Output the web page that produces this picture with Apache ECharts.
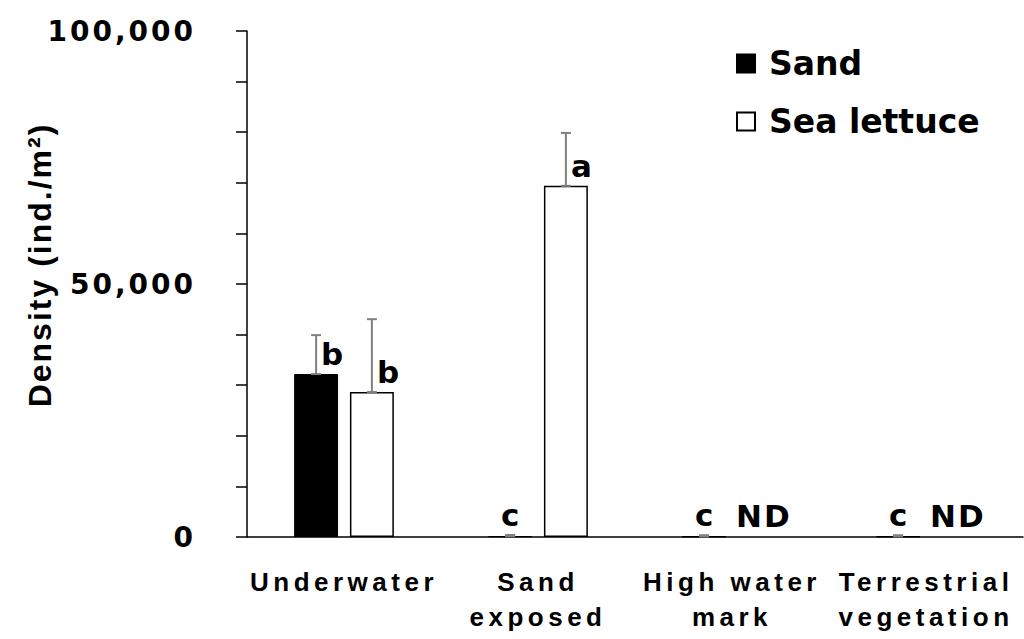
<!DOCTYPE html>
<html>
<head>
<meta charset="utf-8">
<script src="https://cdn.jsdelivr.net/npm/echarts@6/dist/echarts.min.js"></script>
<style>
  html, body { margin: 0; padding: 0; background: #fff; }
  #chart { width: 1024px; height: 639px; }
  #chart text[style*="28px"] { letter-spacing: 3px; }
  #chart text[style*="26px"] { letter-spacing: 4.5px; }
  #chart text[style*="32px"] { letter-spacing: 2px; }
  #chart text[style*="31px"] { letter-spacing: 2px; }
</style>
</head>
<body>
<div id="chart"></div>
<script>
// ---- data ----
const categories = ['Underwater', 'Sand\nexposed', 'High water\nmark', 'Terrestrial\nvegetation'];
const sandValues = [32200, 150, 100, 100];
const sandErrors = [7700, 250, 250, 250];
const lettuceValues = [28650, 69400, null, null];
const lettuceErrors = [14400, 10450, null, null];
const sandLetters = ['b', 'c', 'c', 'c'];
const lettuceLetters = ['b', 'a', 'ND', 'ND'];
const yTickValues = [0, 50000, 100000];
const seriesNames = ['Sand', 'Sea lettuce'];

const FONT = '"Liberation Sans", Arial, sans-serif';
const WIDE = '"DejaVu Sans", sans-serif';
const CAT_GAP = 0.486, BAR_GAP = 0.27;

function makeRender(values, errors, letters, side) {
  return function (params, api) {
    const i = api.value(0);
    const v = values[i], e = errors[i], letter = letters[i];
    const band = api.size([1, 0])[0];
    const barW = band * (1 - CAT_GAP) / (2 + BAR_GAP);
    const off = side * barW * (1 + BAR_GAP) / 2;
    const base = api.coord([i, 0]);
    const cx = base[0] + off;
    const zeroY = base[1];
    const children = [];
    const errStyle = { stroke: '#808080', lineWidth: 2 };
    const txt = (t, x, y, align) => ({
      type: 'text',
      style: { text: t, x: x, y: y, fill: '#000', fontSize: 31, fontWeight: 'bold',
               fontFamily: WIDE, align: align, verticalAlign: 'middle' }
    });
    if (v != null) {
      const top = api.coord([i, v])[1];
      const etop = api.coord([i, v + e])[1];
      children.push({ type: 'line', shape: { x1: cx, y1: top, x2: cx, y2: etop }, style: errStyle });
      children.push({ type: 'line', shape: { x1: cx - 5, y1: etop, x2: cx + 5, y2: etop }, style: errStyle });
      children.push({ type: 'line', shape: { x1: cx - 5, y1: top, x2: cx + 5, y2: top }, style: errStyle });
      if (top - etop > 15) {
        children.push(txt(letter, cx + 5, top - 20, 'left'));
      } else {
        children.push(txt(letter, cx + 1, zeroY - 22, 'center'));
      }
    } else {
      children.push(txt(letter, cx + 4, zeroY - 21, 'center'));
    }
    return { type: 'group', children: children };
  };
}

const idx = categories.map((c, i) => [i]);

const chart = echarts.init(document.getElementById('chart'), null, { renderer: 'svg' });
chart.setOption({
  animation: false,
  backgroundColor: '#fff',
  grid: { left: 247, right: 1, top: 31, bottom: 102, containLabel: false },
  legend: {
    data: seriesNames,
    orient: 'vertical',
    left: 736, top: 47,
    padding: 0,
    itemWidth: 18, itemHeight: 18,
    itemGap: 25,
    icon: 'rect',
    textStyle: { fontSize: 33, fontWeight: 'bold', fontFamily: WIDE, color: '#000',
                 lineHeight: 33, padding: [0, 0, 0, 9] }
  },
  xAxis: {
    type: 'category',
    data: categories,
    axisTick: { show: false },
    axisLine: { show: true, lineStyle: { color: '#000', width: 1.5 } },
    axisLabel: { interval: 0, fontSize: 26, fontWeight: 'bold', fontFamily: FONT,
                 color: '#000', lineHeight: 35, margin: 27 },
    splitLine: { show: false }
  },
  yAxis: {
    type: 'value',
    min: 0, max: 100000, interval: 10000,
    axisLine: { show: true, lineStyle: { color: '#000', width: 1.5 } },
    axisTick: { show: true, inside: false, length: 11, lineStyle: { color: '#000', width: 1.5 } },
    axisLabel: {
      fontSize: 28, fontWeight: 'bold', fontFamily: WIDE, color: '#000', margin: 51,
      formatter: v => yTickValues.includes(v) ? v.toLocaleString('en-US') : ''
    },
    splitLine: { show: false }
  },
  graphic: [{
    type: 'text',
    x: 40, y: 265,
    rotation: Math.PI / 2,
    style: { text: 'Density (ind./m²)', fontSize: 32, fontWeight: 'bold', fontFamily: FONT,
             fill: '#000', align: 'center', verticalAlign: 'middle' }
  }],
  series: [
    {
      name: seriesNames[0], type: 'bar', data: sandValues,
      barGap: (BAR_GAP * 100) + '%', barCategoryGap: (CAT_GAP * 100) + '%',
      itemStyle: { color: '#000', borderColor: '#000', borderWidth: 1 }, z: 2
    },
    {
      name: seriesNames[1], type: 'bar', data: lettuceValues,
      barGap: (BAR_GAP * 100) + '%', barCategoryGap: (CAT_GAP * 100) + '%',
      itemStyle: { color: '#fff', borderColor: '#000', borderWidth: 1.5 }, z: 2
    },
    { type: 'custom', name: 'errSand', data: idx, renderItem: makeRender(sandValues, sandErrors, sandLetters, -1), z: 5, clip: false, silent: true },
    { type: 'custom', name: 'errLettuce', data: idx, renderItem: makeRender(lettuceValues, lettuceErrors, lettuceLetters, 1), z: 5, clip: false, silent: true }
  ]
});
</script>
</body>
</html>
